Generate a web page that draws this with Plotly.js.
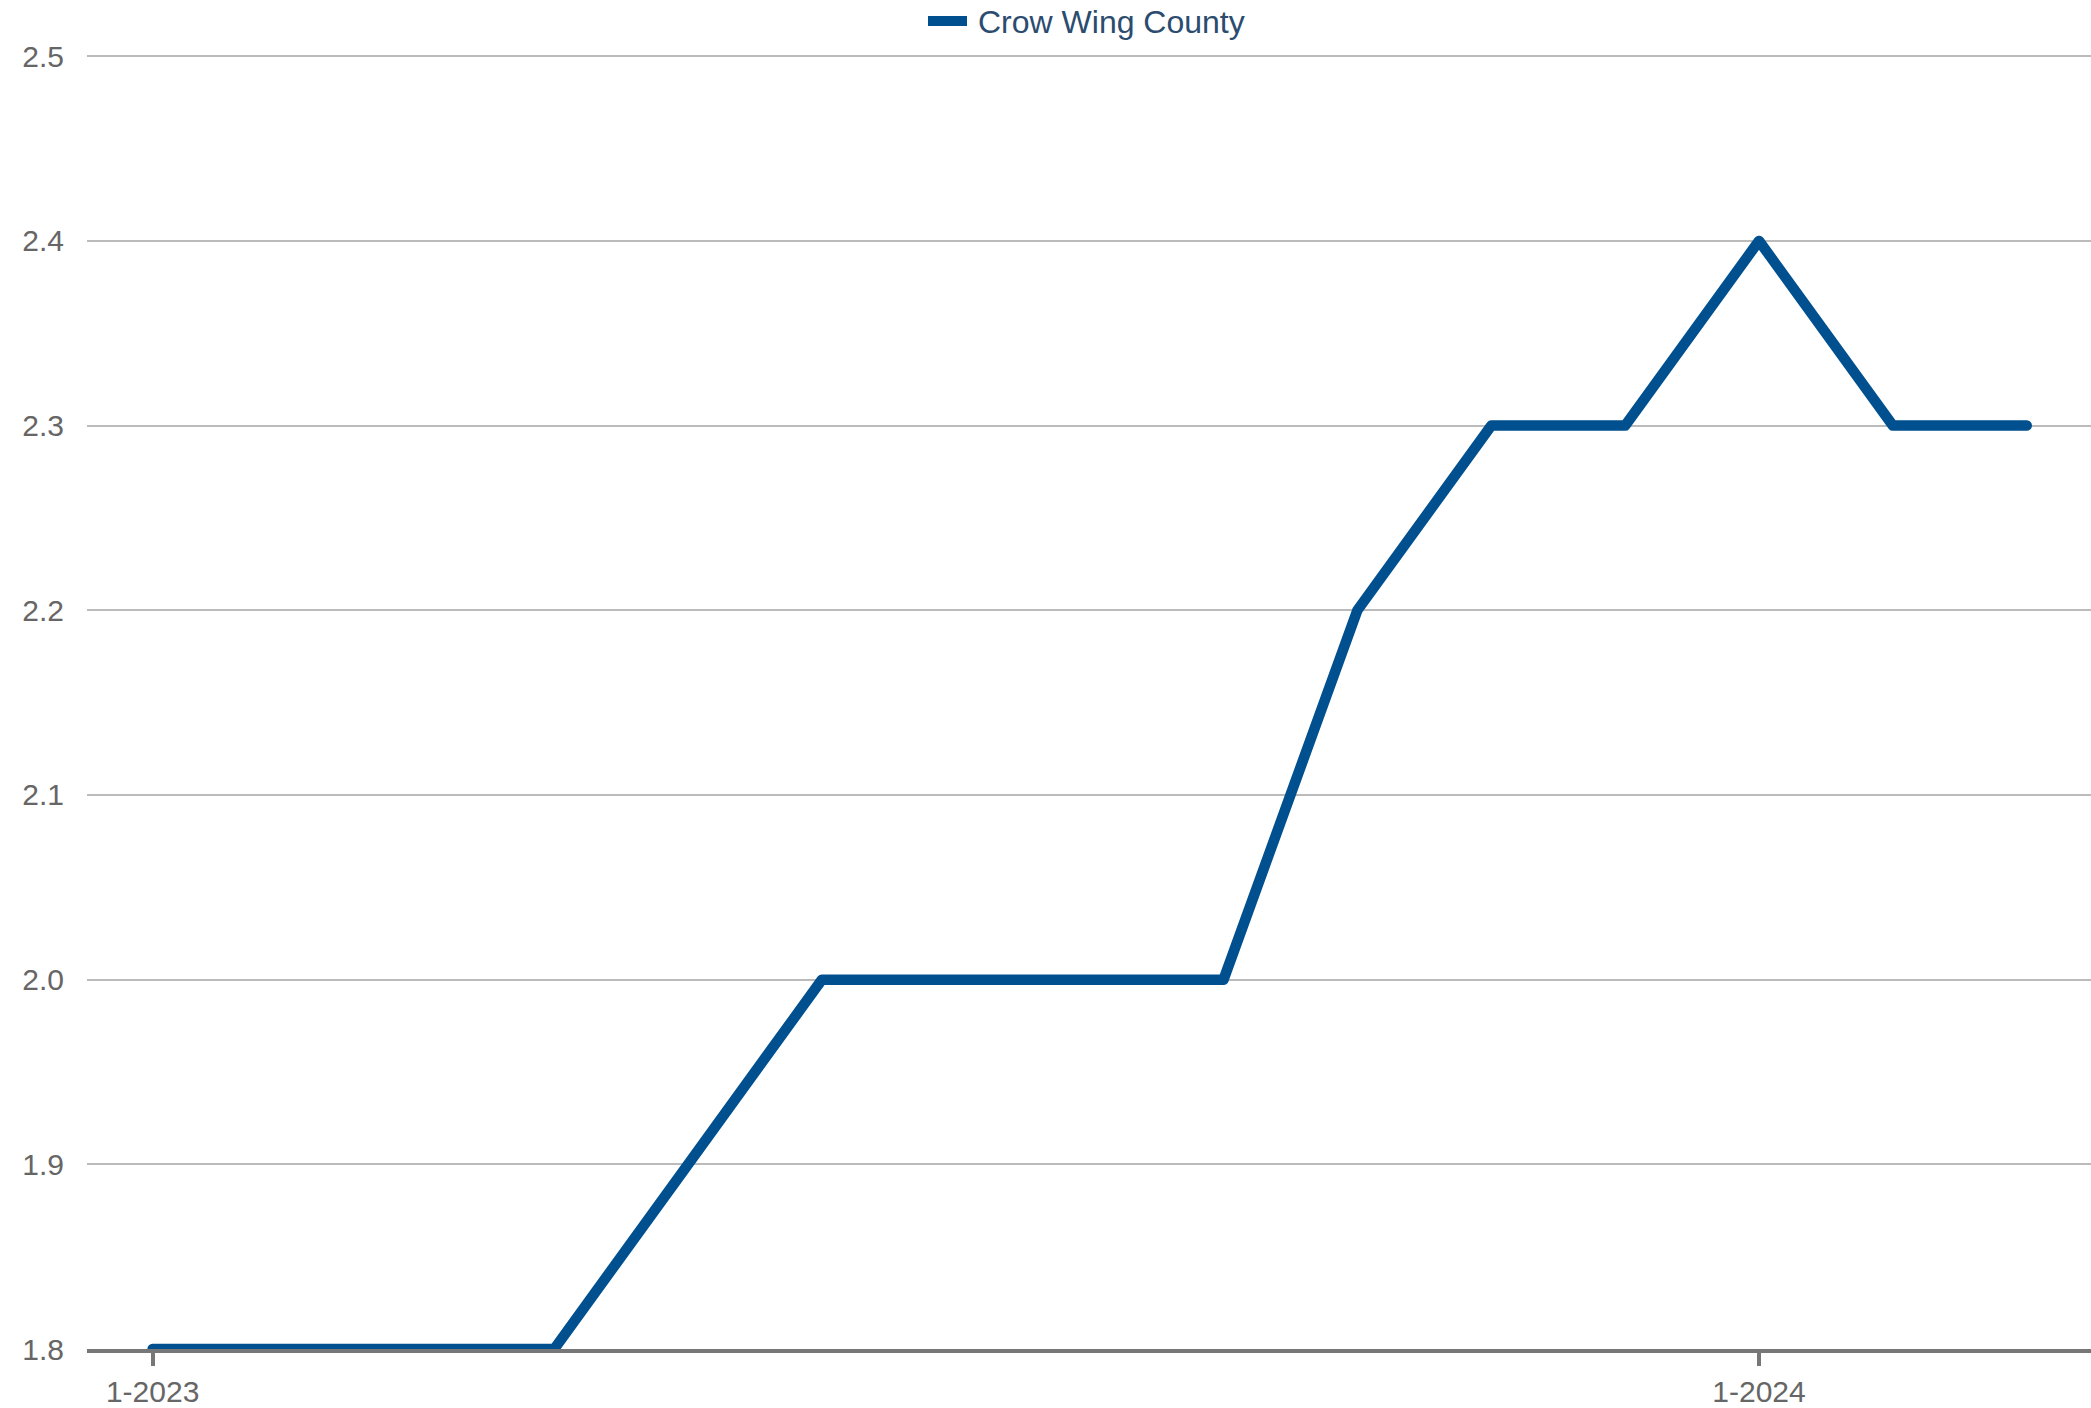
<!DOCTYPE html>
<html>
<head>
<meta charset="utf-8">
<script src="https://cdn.plot.ly/plotly-3.0.1.min.js"></script>
<style>
  html, body { margin: 0; padding: 0; background: #fff; }
  #chart { width: 2091px; height: 1408px; }
  .scatterlayer .js-line { stroke-linejoin: round !important; stroke-linecap: round !important; }
  .legend .legendlines { transform: translateX(-24px) scaleX(1.4); }
</style>
</head>
<body>
<div id="chart"></div>
<script>
const months = ["1-2023","2-2023","3-2023","4-2023","5-2023","6-2023","7-2023","8-2023","9-2023","10-2023","11-2023","12-2023","1-2024","2-2024","3-2024"];
const crowWing = [1.8, 1.8, 1.8, 1.8, 1.9, 2.0, 2.0, 2.0, 2.0, 2.2, 2.3, 2.3, 2.4, 2.3, 2.3];
const xTickVals = ["1-2023", "1-2024"];
const yTickVals = [1.8, 1.9, 2.0, 2.1, 2.2, 2.3, 2.4, 2.5];
const seriesName = "Crow Wing County";

const trace = {
  x: months,
  y: crowWing,
  type: "scatter",
  mode: "lines",
  name: seriesName,
  line: { color: "#00508f", width: 10.5 },
  hoverinfo: "x+y"
};

const layout = {
  width: 2091,
  height: 1408,
  margin: { l: 87, r: 0, t: 54, b: 59, pad: 0, autoexpand: false },
  paper_bgcolor: "#ffffff",
  plot_bgcolor: "#ffffff",
  font: { family: "Liberation Sans, Arial, sans-serif", size: 30, color: "#666666" },
  showlegend: true,
  legend: {
    orientation: "h",
    x: 0.5, xanchor: "center",
    y: 0.985, yref: "container", yanchor: "middle",
    font: { size: 32, color: "#2b4c6f" },
    bgcolor: "rgba(0,0,0,0)",
    itemwidth: 40
  },
  xaxis: {
    type: "category",
    categoryorder: "array",
    categoryarray: months,
    range: [-0.49, 14.48],
    tickmode: "array",
    tickvals: xTickVals,
    ticktext: xTickVals,
    showgrid: false,
    zeroline: false,
    showline: true,
    linecolor: "#777777",
    linewidth: 4,
    ticks: "outside",
    ticklen: 13,
    tickwidth: 4,
    tickcolor: "#777777",
    tickfont: { size: 30, color: "#666666" },
    automargin: false,
    fixedrange: true
  },
  yaxis: {
    range: [1.8, 2.5012],
    tickmode: "array",
    tickvals: yTickVals,
    ticktext: yTickVals.map(v => v.toFixed(1)),
    showgrid: true,
    gridcolor: "#bbbbbb",
    gridwidth: 2,
    zeroline: false,
    showline: false,
    ticks: "",
    ticklabelstandoff: 22,
    tickfont: { size: 30, color: "#666666" },
    automargin: false,
    fixedrange: true
  }
};

Plotly.newPlot("chart", [trace], layout, { displayModeBar: false, staticPlot: true });
</script>
</body>
</html>
